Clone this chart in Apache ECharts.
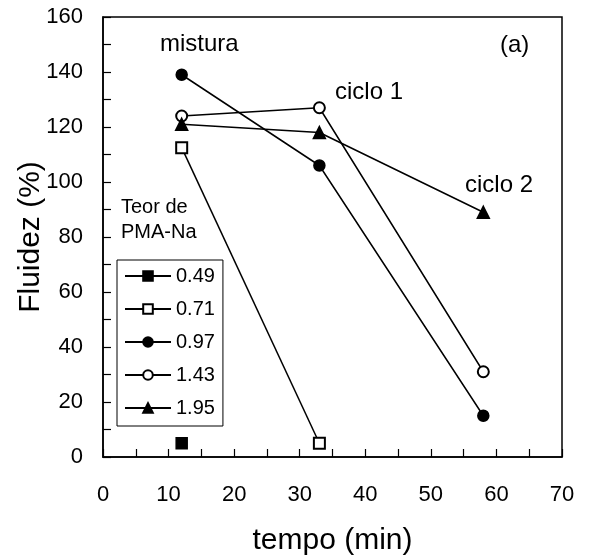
<!DOCTYPE html>
<html>
<head>
<meta charset="utf-8">
<script src="https://cdn.jsdelivr.net/npm/echarts@6/dist/echarts.min.js"></script>
<style>
  html, body { margin: 0; padding: 0; background: #fff; }
  #main { width: 589px; height: 556px; }
</style>
</head>
<body>
<div id="main"></div>
<script type="text/javascript">
    // tempo (min) das medidas: mistura, ciclo 1, ciclo 2
    var tempo = [12, 33, 58];
    // teores de PMA-Na (legenda)
    var teores = ['0.49', '0.71', '0.97', '1.43', '1.95'];
    // fluidez (%) para cada teor
    var flu049 = [5];
    var flu071 = [112.5, 5];
    var flu097 = [139, 106, 15];
    var flu143 = [124, 127, 31];
    var flu195 = [121, 118, 89];
    var simbolos = ['rect', 'emptyRect', 'circle', 'emptyCircle', 'triangle'];
    var tamanhos = [11, 11, 11, 11, 12];

    var fonte = '"Liberation Sans", Arial, Helvetica, sans-serif';

    function pares(valores) {
        var d = [];
        for (var i = 0; i < valores.length; i++) {
            d.push([tempo[i], valores[i]]);
        }
        return d;
    }

    var valores = [flu049, flu071, flu097, flu143, flu195];
    var series = [];
    for (var k = 0; k < teores.length; k++) {
        series.push({
            name: teores[k],
            type: 'line',
            data: pares(valores[k]),
            symbol: simbolos[k],
            symbolSize: tamanhos[k],
            showAllSymbol: true,
            lineStyle: { color: '#000', width: 1.5 },
            itemStyle: { color: '#000', borderColor: '#000', borderWidth: 1.5 },
            emphasis: { disabled: true },
            animation: false
        });
    }

    var myChart = echarts.init(document.getElementById('main'));
    var option = {
        backgroundColor: '#fff',
        animation: false,
        grid: {
            left: 103, right: 27, top: 17, bottom: 99,
            containLabel: false,
            outerBoundsMode: 'none',
            show: true, borderColor: '#000', borderWidth: 1.5, backgroundColor: 'transparent'
        },
        legend: {
            orient: 'vertical',
            left: 117, top: 260,
            padding: [6, 8, 8, 7],
            itemWidth: 46, itemHeight: 12, itemGap: 13,
            borderColor: '#000', borderWidth: 1,
            textStyle: { color: '#000', fontSize: 20, fontFamily: fonte },
            data: teores
        },
        xAxis: {
            type: 'value',
            min: 0, max: 70, interval: 10,
            name: 'tempo (min)',
            nameLocation: 'middle',
            nameGap: 69,
            nameMoveOverlap: false,
            nameTextStyle: { color: '#000', fontSize: 30, fontFamily: fonte },
            axisLine: { lineStyle: { color: '#000', width: 1.5 } },
            axisTick: { inside: true, length: 8, lineStyle: { color: '#000', width: 1.2 } },
            minorTick: { show: true, splitNumber: 2, length: 8, lineStyle: { color: '#000', width: 1.2 } },
            axisLabel: { color: '#000', fontSize: 22, fontFamily: fonte, margin: 27 },
            splitLine: { show: false }
        },
        yAxis: {
            type: 'value',
            min: 0, max: 160, interval: 20,
            name: 'Fluidez (%)',
            nameLocation: 'middle',
            nameGap: 57,
            nameMoveOverlap: false,
            nameTextStyle: { color: '#000', fontSize: 30, fontFamily: fonte },
            axisLine: { lineStyle: { color: '#000', width: 1.5 } },
            axisTick: { inside: true, length: 8, lineStyle: { color: '#000', width: 1.2 } },
            minorTick: { show: true, splitNumber: 2, length: 8, lineStyle: { color: '#000', width: 1.2 } },
            axisLabel: { color: '#000', fontSize: 22, fontFamily: fonte, margin: 20 },
            splitLine: { show: false }
        },
        graphic: [
            { type: 'text', left: 160, top: 32, style: { text: 'mistura', fill: '#000', font: '24px ' + fonte } },
            { type: 'text', left: 500, top: 33, style: { text: '(a)', fill: '#000', font: '24px ' + fonte } },
            { type: 'text', left: 335, top: 80, style: { text: 'ciclo 1', fill: '#000', font: '24px ' + fonte } },
            { type: 'text', left: 465, top: 173, style: { text: 'ciclo 2', fill: '#000', font: '24px ' + fonte } },
            { type: 'text', left: 121, top: 197, style: { text: 'Teor de', fill: '#000', font: '20px ' + fonte } },
            { type: 'text', left: 121, top: 222, style: { text: 'PMA-Na', fill: '#000', font: '20px ' + fonte } }
        ],
        series: series
    };
    myChart.setOption(option);
</script>
</body>
</html>
